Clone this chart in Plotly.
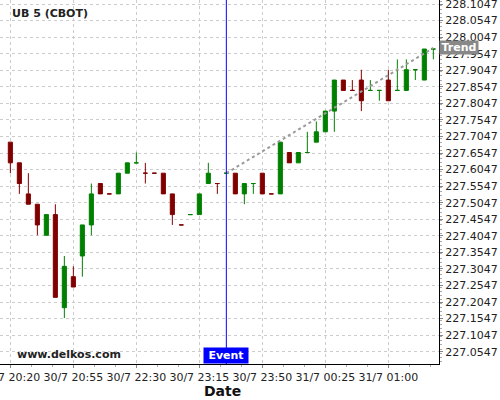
import plotly.graph_objects as go

# UB 5 (CBOT), 5 minute bars; prices quoted in 32nds above the handle
handle = 227
open_32 = [22, 20, 17, 16, 13, 15, 6, 9, 11, 14, 18, 17, 17, 19, 20, 19,
           19, 19, 17, 14, 15, 15, 18, 18, 19, 19, 17, 18, 19, 17, 17, 21,
           20, 21, 22, 23, 25, 28, 27, 28, 27, 27, 28, 27, 27, 29, 28, 31]
high_32 = [22, 20, 19, 16, 15, 16, 11, 10, 14, 18, 18, 17, 19, 20, 21, 20,
           19, 19, 17, 14, 15, 17, 20, 18, 19, 19, 18, 18, 19, 17, 22, 21,
           21, 23, 24, 25, 28, 28, 28, 29, 28, 27, 29, 30, 30, 29, 31, 31]
low_32 = [19, 17, 16, 13, 13, 7, 5, 8, 9, 13, 17, 17, 17, 19, 20, 18,
          19, 17, 14, 14, 15, 15, 18, 17, 19, 17, 16, 17, 17, 17, 17, 20,
          20, 21, 22, 23, 23, 27, 27, 25, 27, 26, 26, 27, 27, 28, 28, 30]
close_32 = [20, 18, 16, 14, 15, 7, 10, 8, 14, 17, 17, 17, 19, 20, 20, 19,
            19, 17, 15, 14, 15, 17, 19, 18, 19, 17, 18, 18, 17, 17, 22, 20,
            21, 21, 23, 25, 28, 27, 27, 26, 27, 27, 26, 27, 29, 29, 31, 31]
direction = "DDDDUDUDUUDDUUUDDDDDUUUDUDUUDDUDUUUUUDDDUUDUUUUU"

tick_idx = [0, 7, 14, 21, 28, 35, 42]
tick_labels = ["30/7 20:20", "30/7 20:55", "30/7 22:30", "30/7 23:15",
               "30/7 23:50", "31/7 00:25", "31/7 01:00"]

event_idx = 24
trend_x = [24, 47]
trend_y = [227.59375, 227.972]

font_family = "DejaVu Sans"


def to_price(vals):
    return [handle + v / 32 for v in vals]


o, h, l, c = to_price(open_32), to_price(high_32), to_price(low_32), to_price(close_32)

fig = go.Figure()

for key, color in (("U", "#008000"), ("D", "#800000")):
    idx = [i for i, d in enumerate(direction) if d == key]
    fig.add_trace(
        go.Candlestick(
            x=idx,
            open=[o[i] for i in idx],
            high=[h[i] for i in idx],
            low=[l[i] for i in idx],
            close=[c[i] for i in idx],
            increasing=dict(line=dict(color=color, width=1), fillcolor=color),
            decreasing=dict(line=dict(color=color, width=1), fillcolor=color),
            showlegend=False,
        )
    )

# trend line from the event bar
fig.add_trace(
    go.Scatter(
        x=trend_x,
        y=trend_y,
        mode="lines",
        line=dict(color="#9a9a9a", width=2, dash="dot"),
        showlegend=False,
    )
)

fig.add_shape(
    type="line", x0=event_idx, x1=event_idx, xref="x", y0=0, y1=1, yref="paper",
    line=dict(color="#0000ff", width=1),
)

fig.add_annotation(
    text="<b>UB 5 (CBOT)</b>", xref="paper", yref="paper", x=0.023, y=1 - 14 / 364,
    xanchor="left", yanchor="middle", showarrow=False,
    font=dict(family=font_family, size=11, color="#222"),
)
fig.add_annotation(
    text="<b>www.delkos.com</b>", xref="paper", yref="paper", x=0.034, y=1 - 354 / 364,
    xanchor="left", yanchor="middle", showarrow=False,
    font=dict(family=font_family, size=11, color="#222"),
)
fig.add_annotation(
    text="<b>Event</b>", xref="x", yref="paper", x=event_idx, y=0,
    xanchor="center", yanchor="bottom", showarrow=False,
    bgcolor="#0000ff", borderpad=1, width=42, height=13,
    font=dict(family=font_family, size=11, color="white"),
)
fig.add_annotation(
    text="<b>Trend</b>", xref="paper", yref="y", x=1, y=trend_y[-1],
    xanchor="left", yanchor="middle", showarrow=False,
    bgcolor="#888888", borderpad=1, width=36, height=11,
    font=dict(family=font_family, size=11, color="white"),
)
# axis title placed by hand so it sits closer to the tick labels
fig.add_annotation(
    text="<b>Date</b>", xref="paper", yref="paper", x=0.506, y=-27 / 364,
    xanchor="center", yanchor="middle", showarrow=False,
    font=dict(family=font_family, size=14, color="#111"),
)

grid = dict(gridcolor="#cccccc", gridwidth=1, griddash="3px,3px")

fig.update_layout(
    width=500,
    height=400,
    margin=dict(l=0, r=61, t=0, b=36),
    paper_bgcolor="white",
    plot_bgcolor="white",
    boxgap=0.35,
    font=dict(family=font_family, size=11, color="#222"),
    xaxis=dict(
        range=[-1.15, 47.63],
        rangeslider=dict(visible=False),
        tickvals=tick_idx,
        ticktext=tick_labels,
        ticklabeloverflow="allow",
        automargin=False,
        showline=True, linecolor="black", linewidth=1,
        ticks="outside", ticklen=3, tickcolor="#888",
        minor=dict(ticks="outside", ticklen=2, tick0=0, dtick=7 / 3, tickcolor="#aaa", showgrid=False),
        zeroline=False,
        **grid,
    ),
    yaxis=dict(
        side="right",
        range=[227.0175, 228.1168],
        tick0=227.0547,
        dtick=0.05,
        tickformat=".4f",
        ticklabeloverflow="allow",
        automargin=False,
        showline=True, linecolor="black", linewidth=1,
        ticks="outside", ticklen=3, tickcolor="#888",
        minor=dict(ticks="outside", ticklen=2, dtick=0.0125, tickcolor="#aaa", showgrid=False),
        zeroline=False,
        **grid,
    ),
)

# drop the page's default body margin so the 500x400 figure fills the window
fig.write_html(
    "out.html",
    config={"displayModeBar": False},
    post_script="document.body.style.margin = '0';",
)
